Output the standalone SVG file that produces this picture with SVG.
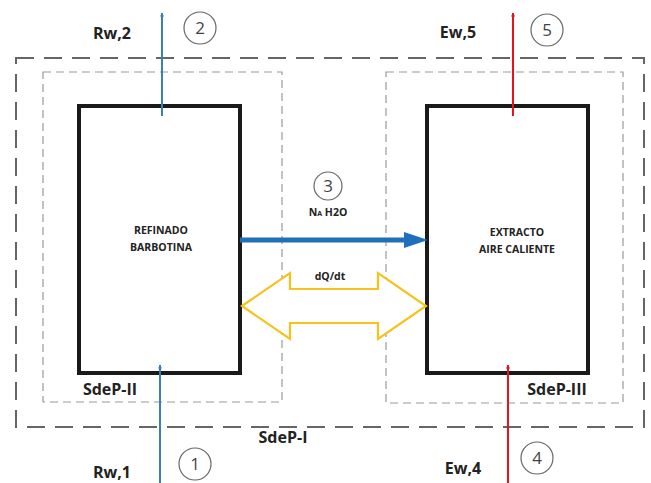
<svg xmlns="http://www.w3.org/2000/svg" width="651" height="483" viewBox="0 0 651 483">
<style>
.t{font-family:"Open Sans","Liberation Sans",sans-serif;font-weight:bold;fill:#222;text-anchor:middle}
.lbl{font-size:16px}
.sm{font-size:10.5px}
.num{font-family:"Open Sans","Liberation Sans",sans-serif;font-size:17px;fill:#444;text-anchor:middle}
.circ{fill:none;stroke:#666;stroke-width:1.2}
.box{fill:#fff;stroke:#1a1a1a;stroke-width:4}
.outer{fill:none;stroke:#666;stroke-width:2;stroke-dasharray:18 10}
.inner{fill:none;stroke:#999;stroke-width:1.2;stroke-dasharray:8 5}
</style>
<defs>
<marker id="ab" viewBox="0 0 10 10" refX="9" refY="5" markerWidth="4" markerHeight="5" orient="auto" markerUnits="userSpaceOnUse"><path d="M0,0L10,5L0,10z" fill="#3a7ebf"/></marker>
<marker id="ar" viewBox="0 0 10 10" refX="9" refY="5" markerWidth="4" markerHeight="5" orient="auto" markerUnits="userSpaceOnUse"><path d="M0,0L10,5L0,10z" fill="#e8141c"/></marker>
</defs>
<rect x="0" y="0" width="651" height="483" fill="#fff"/>
<g id="SdeP-I"><rect class="outer" x="16" y="58" width="628" height="369"/><text class="t lbl" x="283" y="443">SdeP-I</text></g>
<g id="SdeP-II"><rect class="inner" x="43" y="72" width="239" height="330"/><text class="t lbl" x="110" y="395">SdeP-II</text></g>
<g id="SdeP-III"><rect class="inner" x="386" y="72" width="237" height="331"/><text class="t lbl" x="557" y="395">SdeP-III</text></g>
<g id="refinado"><rect class="box" x="79" y="106" width="161" height="267"/><text class="t sm" x="161" y="234">REFINADO</text><text class="t sm" x="161" y="251">BARBOTINA</text></g>
<g id="extracto"><rect class="box" x="427" y="106" width="161" height="267"/><text class="t sm" x="517" y="236">EXTRACTO</text><text class="t sm" x="517" y="253">AIRE CALIENTE</text></g>
<g id="connectors">
<line x1="162" y1="116" x2="162" y2="13" stroke="#3a7ebf" stroke-width="2" marker-end="url(#ab)"/>
<line x1="160" y1="483" x2="160" y2="365" stroke="#3a7ebf" stroke-width="2" marker-end="url(#ab)"/>
<line x1="513" y1="116" x2="513" y2="13" stroke="#e8141c" stroke-width="2" marker-end="url(#ar)"/>
<line x1="508" y1="483" x2="508" y2="365" stroke="#e8141c" stroke-width="2" marker-end="url(#ar)"/>
<line x1="240" y1="240" x2="406" y2="240" stroke="#1f6fba" stroke-width="5"/>
<path d="M404,232L428,240L404,248z" fill="#1f6fba"/>
<path d="M242,306L290,273L290,289L378,289L378,273L426,306L378,339L378,323L290,323L290,339z" fill="#fff" stroke="#f7c21a" stroke-width="2.2" stroke-linejoin="miter"/>
</g>
<g id="labels">
<text class="t lbl" x="112" y="39">Rw,2</text>
<text class="t lbl" x="458" y="38">Ew,5</text>
<text class="t lbl" x="112" y="478">Rw,1</text>
<text class="t lbl" x="463" y="474">Ew,4</text>
<text class="t sm" x="328" y="216" style="font-variant:small-caps">Na H2O</text>
<text class="t sm" x="330" y="280">dQ/dt</text>
</g>
<g id="n2"><circle class="circ" cx="200" cy="28" r="16"/><text class="num" x="200" y="34">2</text></g>
<g id="n5"><circle class="circ" cx="547" cy="30" r="16"/><text class="num" x="547" y="36">5</text></g>
<g id="n1"><circle class="circ" cx="195" cy="464" r="16"/><text class="num" x="195" y="470">1</text></g>
<g id="n4"><circle class="circ" cx="537" cy="458" r="16"/><text class="num" x="537" y="464">4</text></g>
<g id="n3"><circle class="circ" cx="328" cy="186" r="14"/><text class="num" x="328" y="192">3</text></g>
</svg>
